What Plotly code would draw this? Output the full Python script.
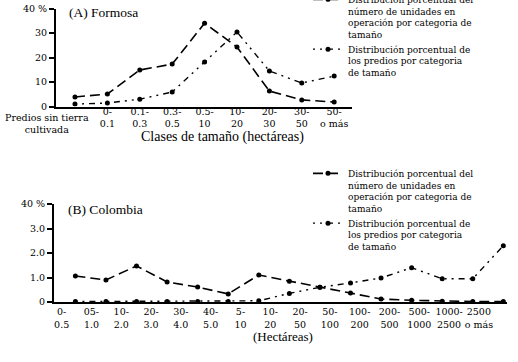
import plotly.graph_objects as go

# ---------------- data ----------------
cats_A = ["Predios sin tierra<br>cultivada", "0-<br>0.1", "0.1-<br>0.3", "0.3-<br>0.5",
          "0.5-<br>10", "10-<br>20", "20-<br>30", "30-<br>50", "50-<br>o más"]
unidades_A = [3.9, 5.1, 14.9, 17.3, 34.0, 24.3, 6.3, 2.7, 1.8]
predios_A = [1.0, 1.4, 3.0, 5.9, 18.2, 30.4, 14.5, 9.6, 12.4]

cats_B = ["0-<br>0.5", "05-<br>1.0", "10-<br>2.0", "20-<br>3.0", "30-<br>4.0", "40-<br>5.0",
          "5-<br>10", "10-<br>20", "20-<br>50", "50-<br>100", "100-<br>200", "200-<br>500",
          "500-<br>1000", "1000-<br>2500", "2500<br>o más"]
unidades_B = [1.06, 0.9, 1.47, 0.82, 0.61, 0.33, 1.1, 0.85, 0.6, 0.37, 0.12, 0.07, 0.03, 0.02, 0.02]
predios_B = [0.02, 0.02, 0.02, 0.02, 0.02, 0.02, 0.05, 0.35, 0.6, 0.78, 0.98, 1.4, 0.95, 0.95, 2.3]

yticks_A = [0, 10, 20, 30, 40]
yticktext_A = ["0", "10", "20", "30", "40 %"]
yticks_B = [0, 1, 2, 3, 4]
yticktext_B = ["0", "1.0", "2.0", "3.0", "40 %"]

name_unid = "Distribución porcentual del<br>número de unidades en<br>operación por categoria de<br>tamaño"
name_pred = "Distribución porcentual de<br>los predios por categoria<br>de tamaño"

# ---------------- styles ----------------
W, H = 518, 362
FONT = "Liberation Serif"
FONT2 = "DejaVu Serif"
DASH_U = "10px,5px"
DASH_P = "2px,5px,2px,5px,6px,5px"
marker = dict(color="black", size=5, symbol="circle")

xA = list(range(len(cats_A)))
xB = list(range(len(cats_B)))

fig = go.Figure()
fig.add_trace(go.Scatter(x=xA, y=unidades_A, mode="lines+markers", name=name_unid,
                         line=dict(color="black", width=1.6, dash=DASH_U), marker=marker,
                         xaxis="x", yaxis="y", legend="legend"))
fig.add_trace(go.Scatter(x=xA, y=predios_A, mode="lines+markers", name=name_pred,
                         line=dict(color="black", width=1.4, dash=DASH_P), marker=marker,
                         xaxis="x", yaxis="y", legend="legend"))
fig.add_trace(go.Scatter(x=xB, y=unidades_B, mode="lines+markers", name=name_unid,
                         line=dict(color="black", width=1.6, dash=DASH_U), marker=marker,
                         xaxis="x2", yaxis="y2", legend="legend2"))
fig.add_trace(go.Scatter(x=xB, y=predios_B, mode="lines+markers", name=name_pred,
                         line=dict(color="black", width=1.4, dash=DASH_P), marker=marker,
                         xaxis="x2", yaxis="y2", legend="legend2"))


def px_x(p):
    return p / W


def px_y(p):
    return 1 - p / H


tickfont = dict(family=FONT2, size=9.5, color="black")

# label positions (layout only); first category label of panel A is drawn as an annotation
tickpos_A = xA[1:]
minor_A = [i + 0.5 for i in range(1, len(cats_A))]
tickpos_B = [i - 0.45 - 0.025 * i for i in xB]
minor_B = [p + 0.49 for p in tickpos_B]

rangeA = [-0.586, 8.55]
rangeB = [-0.70, 14.12]
domA_x = [px_x(56), px_x(352)]
domB_x = [px_x(54), px_x(507)]
domA_y = [px_y(106.5), px_y(8.5)]
domB_y = [px_y(302), px_y(204)]

common_x = dict(showgrid=False, zeroline=False, showline=True, linecolor="black", linewidth=2,
                ticks="", tickfont=tickfont, tickmode="array", tickangle=0, fixedrange=True)
common_y = dict(showgrid=False, zeroline=False, showline=True, linecolor="black", linewidth=2,
                ticks="outside", ticklen=5, tickwidth=1.5, tickcolor="black",
                tickfont=tickfont, tickmode="array", fixedrange=True)
tick_only = dict(showgrid=False, zeroline=False, showline=False, ticks="inside", ticklen=6,
                 tickwidth=1.5, tickcolor="black", showticklabels=False, tickmode="array",
                 fixedrange=True)

fig.update_layout(
    width=W, height=H,
    margin=dict(l=0, r=0, t=0, b=0, autoexpand=False),
    paper_bgcolor="white", plot_bgcolor="white",
    font=dict(family=FONT, color="black"),
    xaxis=dict(domain=domA_x, range=rangeA, anchor="y",
               tickvals=tickpos_A, ticktext=cats_A[1:], ticklabelstandoff=-5, **common_x),
    yaxis=dict(domain=domA_y, range=[0, 40], anchor="x",
               tickvals=yticks_A, ticktext=yticktext_A, **common_y),
    xaxis3=dict(domain=domA_x, range=rangeA, anchor="y", overlaying="x",
                tickvals=minor_A, **tick_only),
    xaxis2=dict(domain=domB_x, range=rangeB, anchor="y2",
                tickvals=tickpos_B, ticktext=cats_B, **common_x),
    yaxis2=dict(domain=domB_y, range=[0, 4], anchor="x2",
                tickvals=yticks_B, ticktext=yticktext_B, **common_y),
    xaxis4=dict(domain=domB_x, range=rangeB, anchor="y2", overlaying="x2",
                tickvals=minor_B, **tick_only),
    legend=dict(x=px_x(308), y=px_y(-13), xanchor="left", yanchor="top",
                font=dict(family=FONT2, size=9, color="black"), valign="top",
                bgcolor="rgba(0,0,0,0)", itemwidth=30, tracegroupgap=4),
    legend2=dict(x=px_x(308), y=px_y(161), xanchor="left", yanchor="top",
                 font=dict(family=FONT2, size=9, color="black"), valign="top",
                 bgcolor="rgba(0,0,0,0)", itemwidth=30, tracegroupgap=4),
    showlegend=True,
    annotations=[
        dict(text=cats_A[0], x=px_x(47), y=px_y(110), xref="paper", yref="paper",
             xanchor="center", yanchor="top", align="center", showarrow=False,
             font=tickfont),
        dict(text="(A) Formosa", x=px_x(67), y=px_y(13), xref="paper", yref="paper",
             xanchor="left", yanchor="middle", showarrow=False,
             font=dict(family=FONT, size=13.5, color="black")),
        dict(text="(B) Colombia", x=px_x(66), y=px_y(209), xref="paper", yref="paper",
             xanchor="left", yanchor="middle", showarrow=False,
             font=dict(family=FONT, size=13.5, color="black")),
        dict(text="Clases de tamaño (hectáreas)", x=px_x(222), y=px_y(137), xref="paper", yref="paper",
             xanchor="center", yanchor="middle", showarrow=False,
             font=dict(family=FONT, size=14, color="black")),
        dict(text="(Hectáreas)", x=px_x(283), y=px_y(336), xref="paper", yref="paper",
             xanchor="center", yanchor="middle", showarrow=False,
             font=dict(family=FONT, size=13, color="black")),
    ],
)

fig.write_html("out.html")
